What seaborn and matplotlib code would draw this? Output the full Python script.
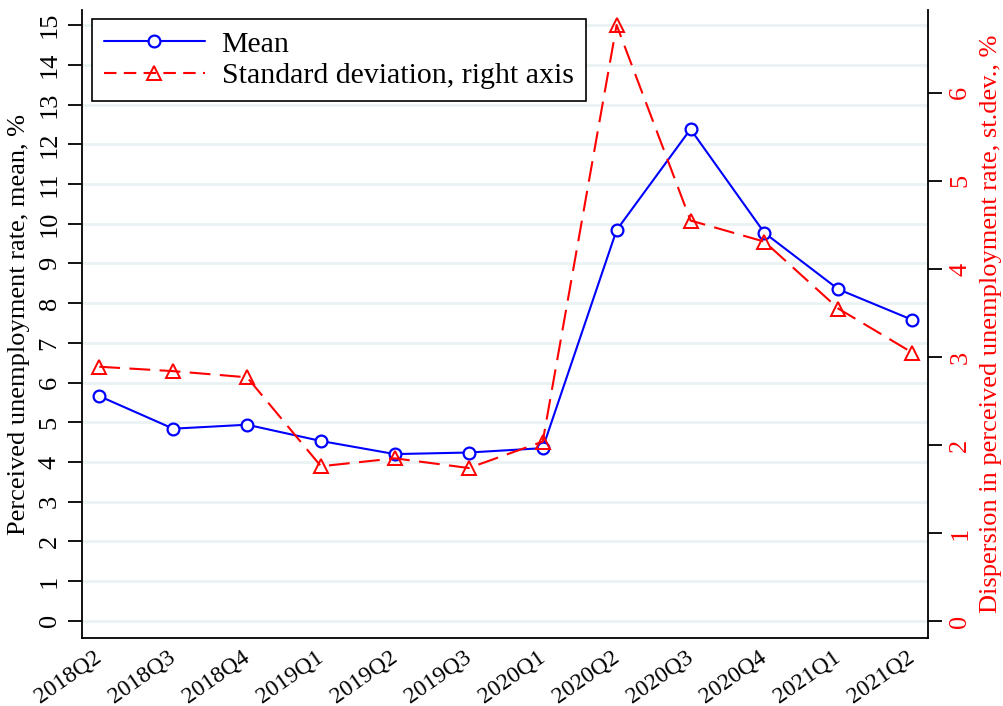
import numpy as np
import pandas as pd
import matplotlib
matplotlib.use("Agg")
import matplotlib.pyplot as plt
import seaborn as sns
from matplotlib.lines import Line2D

# data
quarters = ["2018Q2", "2018Q3", "2018Q4", "2019Q1", "2019Q2", "2019Q3",
            "2020Q1", "2020Q2", "2020Q3", "2020Q4", "2021Q1", "2021Q2"]
mean_rate = [5.66, 4.84, 4.94, 4.53, 4.20, 4.24, 4.35, 9.84, 12.38, 9.77, 8.35, 7.58]
sd_rate = [2.89, 2.84, 2.77, 1.76, 1.85, 1.74, 2.04, 6.77, 4.55, 4.31, 3.55, 3.05]

df = pd.DataFrame({"quarter": quarters, "mean": mean_rate, "sd": sd_rate})
df["pos"] = np.arange(len(df))

sns.set_style("white")
plt.rcParams["font.family"] = ["Liberation Serif", "DejaVu Serif"]
plt.rcParams["text.color"] = "black"
plt.rcParams["axes.labelcolor"] = "black"
plt.rcParams["xtick.color"] = "black"
plt.rcParams["ytick.color"] = "black"

fig = plt.figure(figsize=(10.04, 7.06), dpi=100)
ax = fig.add_axes([0.0812, 0.0963, 0.8436, 0.8895])
ax2 = ax.twinx()

grid_col = "#eaf2f3"
for v in range(0, 16):
    ax.axhline(v, color=grid_col, lw=2.0, zorder=0)

sns.lineplot(data=df, x="pos", y="mean", ax=ax, color="#0000ff", lw=1.5,
             marker="o", markersize=8.5, markerfacecolor="white",
             markeredgecolor="#0000ff", markeredgewidth=1.6, zorder=3)
sns.lineplot(data=df, x="pos", y="sd", ax=ax2, color="#ff0000", lw=1.5,
             marker="^", markersize=10, markerfacecolor="none",
             markeredgecolor="#ff0000", markeredgewidth=1.4,
             dashes=False, zorder=3)
ax2.lines[0].set_dashes((10, 4.5))

ax.set_xlim(-0.24, 11.22)
ax.set_ylim(-0.43, 15.38)
ax2.set_ylim(-0.19, 6.94)

ax.set_xticks(df["pos"])
ax.set_xticklabels(df["quarter"], rotation=35, ha="right", va="center",
                   rotation_mode="anchor", fontsize=17)
ax.set_yticks(range(0, 16))
ax.set_yticklabels([str(v) for v in range(0, 16)], rotation=90, va="center",
                   fontsize=19)
ax2.set_yticks(range(0, 7))
ax2.set_yticklabels([str(v) for v in range(0, 7)], rotation=90, va="center",
                    fontsize=19, color="#ff0000")

ax.set_xlabel("")
ax.set_ylabel("Perceived unemployment rate, mean, %", fontsize=19, labelpad=6)
ax2.set_ylabel("Dispersion in perceived unemployment rate, st.dev., %",
               fontsize=19, color="#ff0000", labelpad=6)

for a in (ax, ax2):
    a.spines["top"].set_visible(False)
    for s in ("left", "right", "bottom"):
        a.spines[s].set_color("black")
        a.spines[s].set_linewidth(1.3)
    a.tick_params(axis="both", direction="out", length=10, width=1.3, pad=5)
ax.tick_params(axis="x", pad=2)
ax.spines["right"].set_visible(False)
ax2.spines["left"].set_visible(False)
ax2.spines["bottom"].set_visible(False)

handles = [
    Line2D([], [], color="#0000ff", lw=1.5, marker="o", markersize=8.5,
           markerfacecolor="white", markeredgecolor="#0000ff", markeredgewidth=1.6),
    Line2D([], [], color="#ff0000", lw=1.5, dashes=(6, 3.5), marker="^", markersize=10,
           markerfacecolor="none", markeredgecolor="#ff0000", markeredgewidth=1.4),
]
leg = ax2.legend(handles, ["Mean", "Standard deviation, right axis"],
                 loc="upper left", bbox_to_anchor=(0.012, 0.986), fontsize=21.5,
                 handlelength=3.4, handletextpad=0.55, borderpad=0.4,
                 labelspacing=0.15, borderaxespad=0, frameon=True,
                 fancybox=False, framealpha=1)
leg.get_frame().set_edgecolor("black")
leg.get_frame().set_linewidth(1.2)

fig.savefig("out.png", dpi=100)
